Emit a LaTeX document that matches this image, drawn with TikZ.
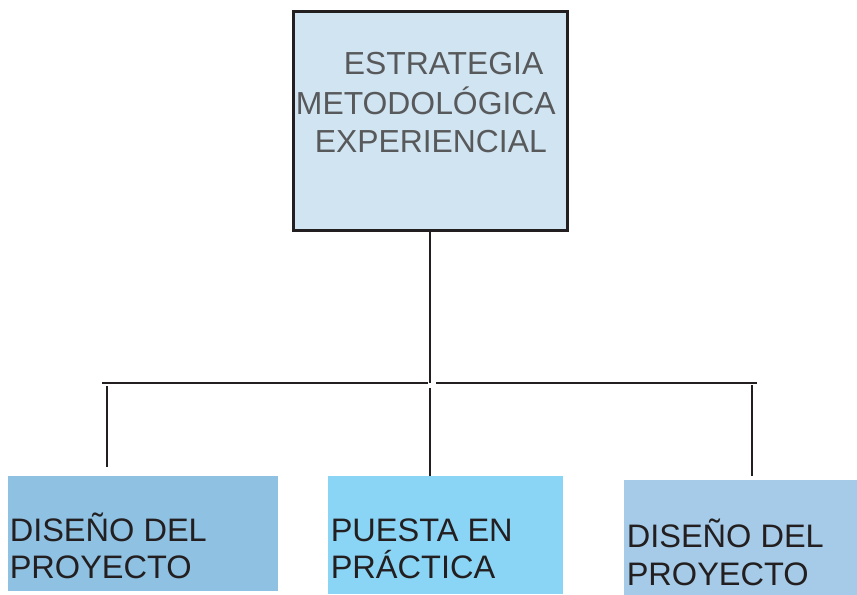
\documentclass[tikz,border=0pt]{standalone}
\usepackage{fontspec}
\setmainfont{Liberation Sans}
\definecolor{ink}{HTML}{231F20}
\definecolor{graytext}{HTML}{58595B}
\definecolor{topfill}{HTML}{D0E4F2}
\definecolor{leftfill}{HTML}{8FC1E3}
\definecolor{midfill}{HTML}{8AD5F5}
\definecolor{rightfill}{HTML}{A5CBE8}
\begin{document}
\begin{tikzpicture}[x=0.75pt,y=-0.75pt,
  box/.style={rectangle,inner sep=0pt,anchor=north west},
  topbox/.style={box,draw=ink,line width=2pt,fill=topfill},
  lbl/.style={inner sep=0pt,anchor=base west},
  toplbl/.style={lbl,text=graytext,font=\fontsize{23.9pt}{28pt}\selectfont},
  botlbl/.style={lbl,text=ink,font=\fontsize{24.4pt}{29pt}\selectfont},
  conn/.style={draw=ink,line width=2pt}]
\useasboundingbox (0,0) rectangle (857,595);
% boxes
\node[topbox,minimum width=205.5pt,minimum height=164.25pt] (top) at (292,10) {};
\node[box,fill=leftfill,minimum width=202.5pt,minimum height=86.25pt] (left) at (8,476) {};
\node[box,fill=midfill,minimum width=176.25pt,minimum height=88.5pt] (mid) at (328,476) {};
\node[box,fill=rightfill,minimum width=174.75pt,minimum height=86.25pt] (right) at (624,480) {};
% texts
\node[toplbl] (t1) at (343.5,75) {ESTRATEGIA};
\node[toplbl] (t2) at (295.7,115) {METODOLÓGICA};
\node[toplbl] (t3) at (314.5,153) {EXPERIENCIAL};
\node[botlbl] (l1) at (9.5,541) {DISEÑO DEL};
\node[botlbl] (l2) at (9.5,578) {PROYECTO};
\node[botlbl] (m1) at (330.5,541) {PUESTA EN};
\node[botlbl] (m2) at (330.5,578) {PRÁCTICA};
\node[botlbl] (r1) at (626.5,547) {DISEÑO DEL};
\node[botlbl] (r2) at (626.5,585) {PROYECTO};
% connector coordinates
\coordinate (j) at (430,383);
\coordinate (hl) at (102,383);
\coordinate (hm1) at (428,383);
\coordinate (hm2) at (436,383);
\coordinate (hr) at (757,383);
\coordinate (vl1) at (107,386);
\coordinate (vl2) at (107,467);
\coordinate (vm1) at (430,388);
\coordinate (vr1) at (752,385);
\coordinate (vr2) at (752,476);
% connectors
\draw[conn] (top.south -| j) -- (j);
\draw[conn] (hl) -- (hm1);
\draw[conn] (hm2) -- (hr);
\draw[conn] (vl1) -- (vl2);
\draw[conn] (vm1) -- (mid.north -| vm1);
\draw[conn] (vr1) -- (vr2);
\end{tikzpicture}
\end{document}
